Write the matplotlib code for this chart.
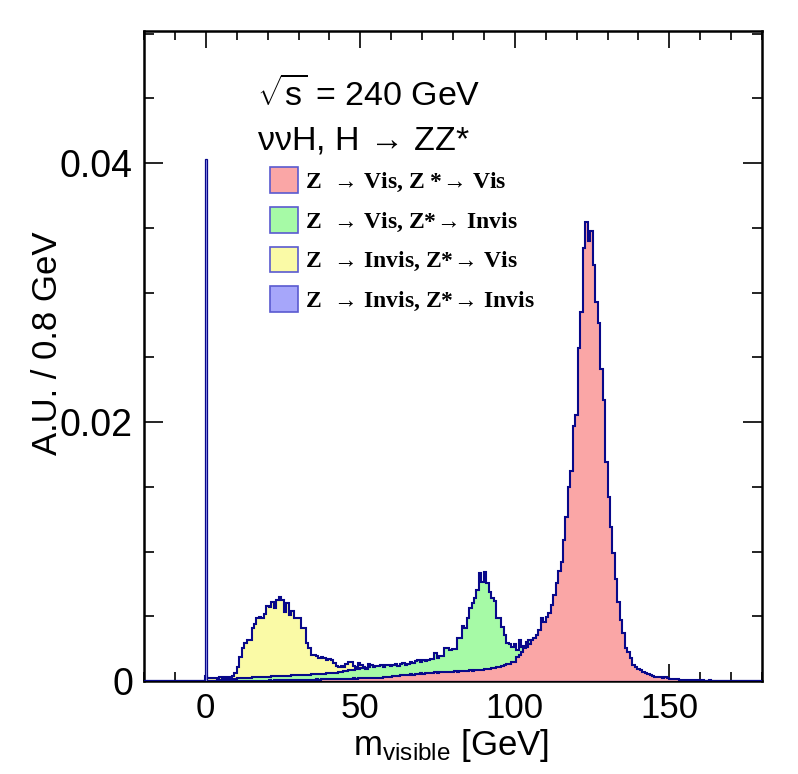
import numpy as np
import matplotlib.pyplot as plt
from matplotlib.patches import Patch
from matplotlib.ticker import MultipleLocator, FuncFormatter
from matplotlib.font_manager import FontProperties

plt.rcParams['font.family'] = ['Liberation Sans', 'DejaVu Sans']
plt.rcParams['mathtext.fontset'] = 'custom'
plt.rcParams['mathtext.rm'] = 'Liberation Sans'
plt.rcParams['mathtext.it'] = 'Liberation Sans:italic'

# binning: 0.8 GeV bins centred on multiples of 0.8
bin_width = 0.8
n_bins = 251          # centres -20.0 ... 180.0

# bin contents in units of 1e-4, first bin centre given in GeV
yellow_start = 0.0
yellow_vals = [3.5,
               2.0, 2.2, 2.0, 2.5, 2.2, 2.8, 2.5, 3.0, 2.8, 3.2, 4.0, 5.9,
               11.0, 18.8, 25.7, 29.1, 31.7, 31.7, 40.7, 43.8, 48.4, 49.7,
               48.4, 51.5, 57.9, 57.4, 61.3, 56.1, 62.6, 65.1, 62.6, 53.5,
               60.0, 51.0, 54.1, 48.9, 48.4,
               48.9, 41.2, 41.2, 29.1, 25.2, 20.1, 20.1, 19.6, 17.5, 18.5,
               17.5, 16.2, 17.0, 16.2, 13.7, 11.8, 11.1, 11.8, 11.1, 13.0,
               14.4, 14.4, 11.8, 11.1, 13.7, 12.0, 11.1, 9.8, 13.0, 11.8,
               10.0, 9.8, 9.0, 8.0, 7.5, 7.0, 6.0, 5.5, 5.0, 4.0,
               3.5, 3.0, 2.5, 2.0, 1.5, 1.0, 0.8, 0.5]

green_start = 4.0
green_vals = [0.8, 1.0, 1.1, 1.3, 1.5, 1.6, 1.8, 1.9, 2.0, 2.2,
              2.3, 2.5, 2.6, 2.5, 2.8, 2.9, 3.0, 3.1, 3.0, 3.3,
              3.4, 3.3, 3.5, 3.6, 3.5, 3.8, 3.9, 4.0, 3.9, 4.2,
              4.3, 4.5, 4.4, 4.6, 4.8, 4.7, 4.9, 5.0, 5.2, 5.1,
              5.3, 5.5, 5.4, 5.7, 5.9,
              6.0, 6.2, 6.4, 6.5, 6.9, 7.2, 7.5, 7.8, 8.2, 8.5, 8.8, 9.2, 9.5,
              10.0, 10.5, 9.5, 11.0, 12.0, 10.8, 11.8, 11.2, 12.5, 11.0,
              12.2, 12.4, 11.5, 12.0, 12.8, 11.8, 13.0, 14.0, 12.5, 13.5,
              15.0, 13.8, 15.5, 16.0, 15.0, 16.2, 15.8, 16.5, 17.0, 17.2,
              21.4, 17.5,
              19.6, 19.6, 25.2, 25.8, 23.9, 24.5, 24.5, 33.5, 33.5, 42.7,
              40.7, 48.4, 56.1, 60.0, 63.8, 70.3, 83.1, 76.7, 83.9, 75.4,
              69.0, 63.8, 61.8, 48.4, 48.4, 42.0, 35.5, 29.1, 28.3, 26.5,
              28.3, 23.9, 31.7, 26.5, 27.0, 30.0, 31.7, 28.0, 25.0, 22.0,
              18.0, 14.0, 10.0, 7.0, 5.0, 3.5, 2.5, 1.8, 1.2, 0.8, 0.5]

red_start = 20.0
red_vals = [0.3, 0.4, 0.3, 0.5, 0.4, 0.5, 0.6, 0.5, 0.7, 0.6,
            0.8, 0.7, 0.8, 0.9, 0.8, 1.0, 0.9, 1.0, 1.1, 1.0,
            1.2, 1.1, 1.2, 1.3, 1.2,
            1.3, 1.4, 1.3, 1.5, 1.6, 1.5, 1.7, 1.8, 1.7, 1.9,
            2.0, 1.9, 2.1, 2.2, 2.1, 2.3, 2.4, 2.3, 2.5, 2.6,
            2.7, 2.6, 2.8, 3.0, 2.9,
            3.2, 3.5, 3.8, 4.0, 4.3, 4.6, 4.5, 4.9, 5.2, 5.0,
            5.5, 5.6, 5.9, 5.7, 6.0, 6.2, 6.0, 6.4, 6.6, 6.3,
            6.7, 6.9, 6.6, 7.0, 7.2,
            7.1, 7.4, 7.2, 7.6, 7.8, 7.5, 8.0, 8.2, 7.9, 8.5,
            8.3, 8.7, 8.5, 8.9, 9.2, 9.5, 9.8, 10.1, 10.5, 11.1,
            11.8, 12.4, 13.0, 13.4, 14.4,
            15.0, 18.8, 20.0, 22.7, 25.2, 26.5, 28.3, 31.7, 33.5, 35.5, 39.4,
            48.4, 45.8, 49.7, 52.3, 58.7, 66.4, 75.4, 84.9, 92.1, 108.9,
            126.9, 150.1, 162.4, 197.2, 205.4, 256.9, 285.2, 334.1, 354.2, 339.8,
            347.5, 321.2, 292.4, 276.2, 240.9, 217.0, 169.4, 142.3, 119.2, 98.6,
            78.5, 60.8, 47.1, 36.8, 25.2, 22.2, 17.5, 12.4, 11.0, 9.3,
            8.5, 7.2, 5.9, 5.2, 4.6, 4.0, 3.3, 3.3, 2.8, 2.5,
            3.0, 2.1, 1.8, 1.5, 1.5, 1.2, 1.0, 0.8, 0.8, 0.6,
            0.5, 0.6, 0.5, 0.4, 0.9, 0.4, 0.3, 0.3, 0.7, 0.3,
            0.2, 0.2, 0.3, 0.2, 0.1, 0.1, 0.2, 0.1]

blue_start = 0.0
blue_vals = [403.0]

arrow = r'$\!\rightarrow\!$'
labels = ['Z  ' + arrow + ' Vis, Z *' + arrow + ' Vis',
          'Z  ' + arrow + ' Vis, Z*' + arrow + ' Invis',
          'Z  ' + arrow + ' Invis, Z*' + arrow + ' Vis',
          'Z  ' + arrow + ' Invis, Z*' + arrow + ' Invis']
fill_colors = ['#faa6a6', '#a6faa6', '#fafaa6', '#a6a6fa']
line_color = '#08088a'

edges = (np.arange(n_bins + 1) - 25.5) * bin_width


def to_hist(start, vals):
    h = np.zeros(n_bins)
    i0 = int(round(start / bin_width)) + 25
    h[i0:i0 + len(vals)] = np.array(vals) * 1e-4
    return h


h_red = to_hist(red_start, red_vals)
h_green = to_hist(green_start, green_vals)
h_yellow = to_hist(yellow_start, yellow_vals)
h_blue = to_hist(blue_start, blue_vals)

fig = plt.figure(figsize=(7.98, 7.74), dpi=100)
ax = fig.add_axes([144 / 798, 1 - 681 / 774, 618 / 798, 650 / 774])

# drawing order: yellow, green, red, blue
for h, c, z, lw in [(h_yellow, fill_colors[2], 2, 1.5), (h_green, fill_colors[1], 3, 1.5),
                    (h_red, fill_colors[0], 4, 1.5), (h_blue, fill_colors[3], 5, 0.9)]:
    ax.stairs(h, edges, fill=True, color=c, zorder=z)
    ax.stairs(h, edges, baseline=0, color=line_color, lw=lw, zorder=z + 0.5)

ax.set_xlim(-20, 180)
ax.set_ylim(0, 0.0502)

ax.xaxis.set_major_locator(MultipleLocator(50))
ax.xaxis.set_minor_locator(MultipleLocator(10))
ax.yaxis.set_major_locator(MultipleLocator(0.02))
ax.yaxis.set_minor_locator(MultipleLocator(0.005))
ax.yaxis.set_major_formatter(FuncFormatter(lambda v, p: '0' if abs(v) < 1e-9 else '%.2f' % v))

ax.tick_params(which='both', direction='in', top=True, right=True, width=1.2)
ax.tick_params(axis='x', which='major', length=12, labelsize=25, pad=8)
ax.tick_params(axis='x', which='minor', length=6.5)
ax.tick_params(axis='y', which='major', length=14, labelsize=27, pad=8)
ax.tick_params(axis='y', which='minor', length=7)
for s in ax.spines.values():
    s.set_linewidth(1.8)

ax.set_xlabel(r'm$_{\mathrm{visible}}$ [GeV]', fontsize=25)
ax.xaxis.set_label_coords(0.497, -0.07)
ax.set_ylabel('A.U. / 0.8 GeV', fontsize=25)
ax.yaxis.set_label_coords(-0.13, 0.52)

fig.text(257 / 798, 1 - 106 / 774, r'$\sqrt{\mathrm{s}}$ = 240 GeV', fontsize=24.5, va='baseline')
fig.text(257 / 798, 1 - 150 / 774, '\u03bd\u03bdH, H ' + arrow + ' ZZ*', fontsize=24.5, va='baseline')

handles = [Patch(facecolor=c, edgecolor='#5a5ad0', lw=1.2) for c in fill_colors]
leg = ax.legend(handles, labels, loc='upper left',
                bbox_to_anchor=(270 / 798, 1 - 167 / 774), bbox_transform=fig.transFigure,
                frameon=False, borderpad=0, borderaxespad=0,
                handlelength=1.2, handleheight=1.3, handletextpad=0.3, labelspacing=0.55,
                prop=FontProperties(family=['Liberation Serif', 'DejaVu Serif'], weight='bold', size=17))

fig.set_facecolor('white')
plt.savefig('out.png', dpi=100)
